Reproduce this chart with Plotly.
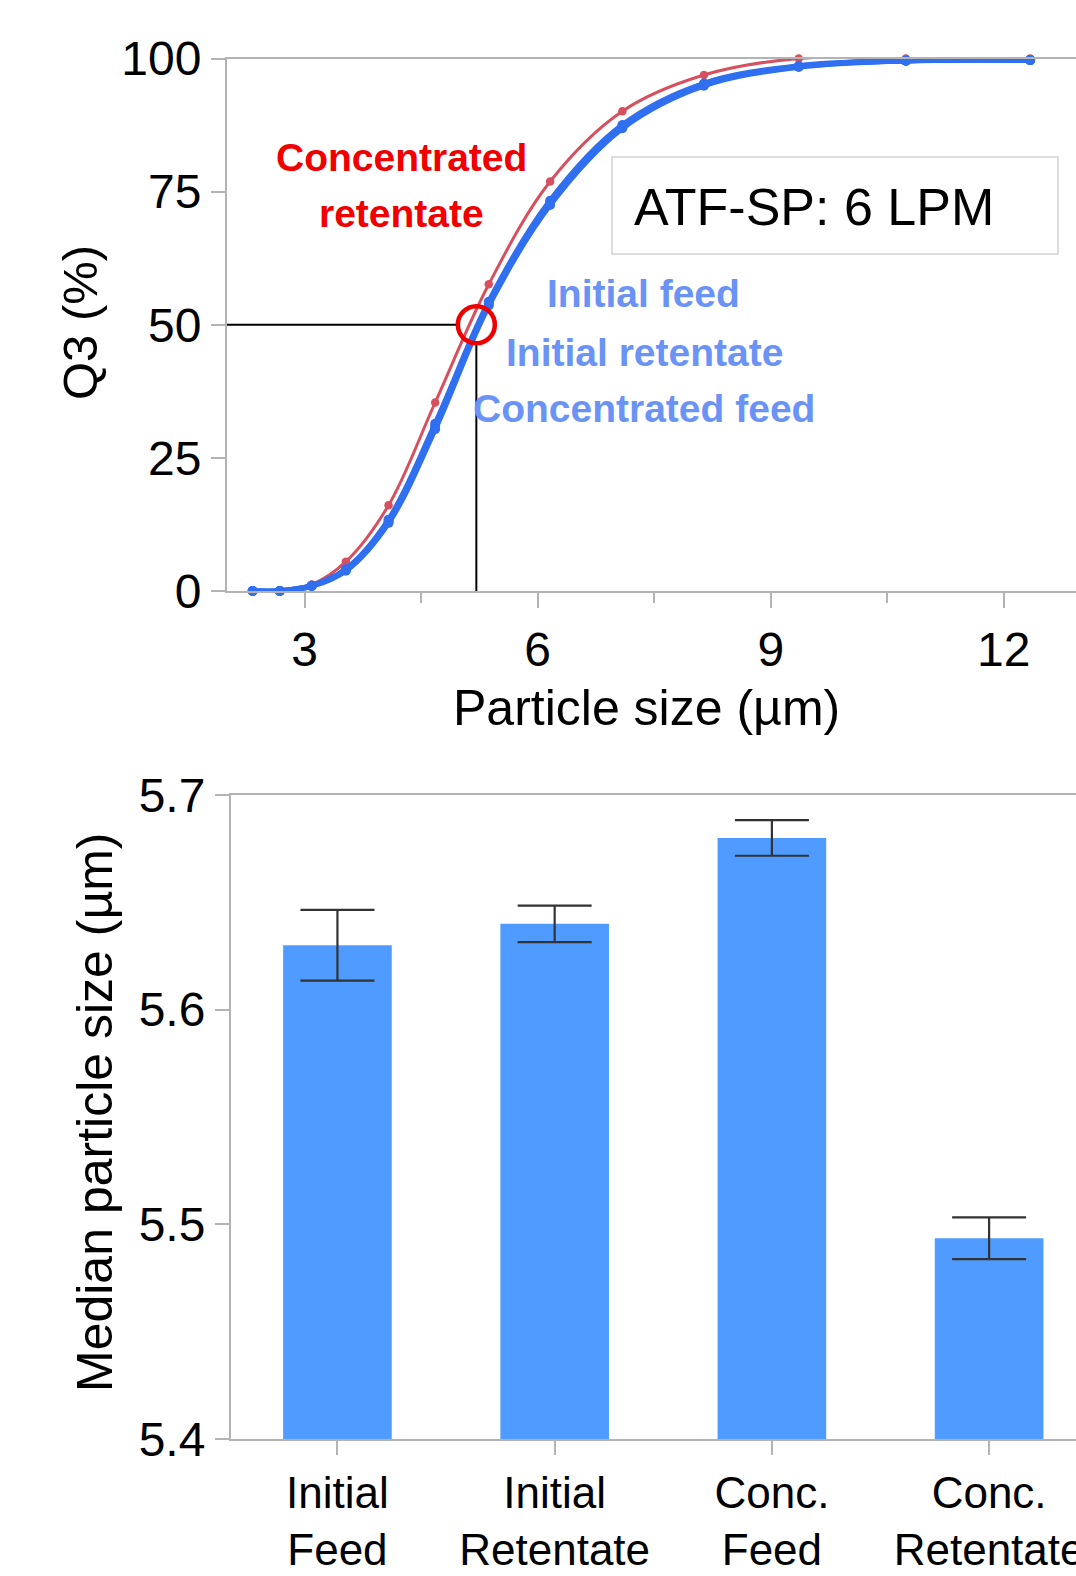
import plotly.graph_objects as go

# ---------------- data ----------------
size_um = [2.33, 2.68, 3.09, 3.53, 4.08, 4.68, 5.37, 6.16, 7.09, 8.14, 9.36, 10.74, 12.34]
q3_conc_retentate = [0, 0, 1.2, 5.5, 16.1, 35.4, 57.6, 76.9, 90.1, 96.9, 100, 100, 100]
q3_initial_feed = [0, 0, 1.0, 4.0, 13.1, 30.9, 54.0, 72.9, 87.2, 95.1, 98.5, 99.6, 99.7]
q3_initial_retentate = [0, 0, 1.0, 4.1, 13.4, 31.4, 54.3, 73.3, 87.5, 95.3, 98.6, 99.6, 99.7]
q3_conc_feed = [0, 0, 0.9, 3.8, 12.8, 30.4, 53.6, 72.5, 86.9, 94.9, 98.4, 99.6, 99.7]
d50_marker = [5.21]
q3_level = [50]

categories = ["Initial<br>Feed", "Initial<br>Retentate", "Conc.<br>Feed", "Conc.<br>Retentate"]
median_um = [5.630, 5.640, 5.680, 5.4935]
median_err = [0.0165, 0.0085, 0.0083, 0.0097]

x_ticks_top = [3, 6, 9, 12]
y_ticks_top = [0, 25, 50, 75, 100]
y_ticks_bot = [5.4, 5.5, 5.6, 5.7]

# ---------------- style ----------------
W, H = 1076, 1576
FONT = "Liberation Sans, Arial, sans-serif"
AX = "#b3b3b3"
BLUE = "#2f6ff0"
RED = "#d6505f"
LBLUE = "#6a93f5"

def px(xp):
    return xp / W

def py(yp):
    return 1 - yp / H

fig = go.Figure()

fig.add_trace(go.Scatter(x=size_um, y=q3_conc_retentate, mode="lines+markers",
                         line=dict(color=RED, width=3, shape="spline", smoothing=1),
                         marker=dict(color=RED, size=8.5), xaxis="x", yaxis="y",
                         showlegend=False, cliponaxis=False))
for ys in (q3_initial_feed, q3_initial_retentate, q3_conc_feed):
    fig.add_trace(go.Scatter(x=size_um, y=ys, mode="lines+markers",
                             line=dict(color=BLUE, width=5.5, shape="spline", smoothing=1),
                             marker=dict(color=BLUE, size=10), xaxis="x", yaxis="y",
                             showlegend=False, cliponaxis=False))

fig.add_trace(go.Scatter(x=[2.0, 4.95], y=[q3_level[0], q3_level[0]], mode="lines",
                         line=dict(color="black", width=2), xaxis="x", yaxis="y", showlegend=False))
fig.add_trace(go.Scatter(x=[d50_marker[0], d50_marker[0]], y=[0, 46.3], mode="lines",
                         line=dict(color="black", width=2), xaxis="x", yaxis="y", showlegend=False))
fig.add_trace(go.Scatter(x=d50_marker, y=q3_level, mode="markers",
                         marker=dict(symbol="circle-open", size=37, color="#ee0000",
                                     line=dict(width=4.5, color="#ee0000")),
                         xaxis="x", yaxis="y", showlegend=False))

fig.add_trace(go.Bar(x=categories, y=median_um, width=0.5,
                     marker=dict(color="#4f9bff", line=dict(width=0)),
                     error_y=dict(type="data", array=median_err, visible=True,
                                  color="#333333", thickness=2.2, width=37),
                     xaxis="x2", yaxis="y2", showlegend=False))

tickfont = dict(family=FONT, size=48, color="black")

fig.update_layout(
    width=W, height=H,
    margin=dict(l=0, r=0, t=0, b=0, autoexpand=False),
    paper_bgcolor="white", plot_bgcolor="white",
    xaxis=dict(domain=[px(227), 1], range=[2.0, 12.93], tickvals=x_ticks_top,
               showgrid=False, zeroline=False, showline=True, linecolor=AX, linewidth=2,
               mirror=True, ticks="outside", ticklen=15, tickwidth=2, tickcolor=AX,
               minor=dict(dtick=1.5, tick0=0, ticks="outside", ticklen=10, tickwidth=2, tickcolor=AX),
               tickfont=tickfont, anchor="y", automargin=False),
    yaxis=dict(domain=[py(591), py(58.5)], range=[0, 100], tickvals=y_ticks_top,
               showgrid=False, zeroline=False, showline=True, linecolor=AX, linewidth=2,
               ticks="outside", ticklen=14, tickwidth=2, tickcolor=AX,
               tickfont=tickfont, anchor="x", automargin=False),
    xaxis2=dict(domain=[px(231), 1], range=[-0.49, 3.40], type="category",
                showgrid=False, zeroline=False, showline=True, linecolor=AX, linewidth=2,
                mirror=True, ticks="outside", ticklen=14, tickwidth=2, tickcolor=AX,
                tickfont=dict(family=FONT, size=44, color="black"), anchor="y2", automargin=False),
    yaxis2=dict(domain=[py(1439), py(795)], range=[5.4, 5.7], tickvals=y_ticks_bot,
                tickformat=".1f",
                showgrid=False, zeroline=False, showline=True, linecolor=AX, linewidth=2,
                ticks="outside", ticklen=14, tickwidth=2, tickcolor=AX,
                tickfont=dict(family=FONT, size=48, color="black"), anchor="x2", automargin=False),
)

fig.add_shape(type="rect", xref="paper", yref="paper",
              x0=px(612), x1=px(1058), y0=py(254), y1=py(157),
              line=dict(color="#d2d2d2", width=1.5), fillcolor="rgba(0,0,0,0)")

ann = [
    dict(text="ATF-SP: 6 LPM", x=px(814), y=py(207), size=52, color="black", bold=False),
    dict(text="Concentrated", x=px(401), y=py(157), size=39, color="#f00000", bold=True),
    dict(text="retentate", x=px(401), y=py(213), size=39, color="#f00000", bold=True),
    dict(text="Initial feed", x=px(643), y=py(294), size=39, color=LBLUE, bold=True),
    dict(text="Initial retentate", x=px(644), y=py(352), size=39, color=LBLUE, bold=True),
    dict(text="Concentrated feed", x=px(644), y=py(408), size=39, color=LBLUE, bold=True),
    dict(text="Particle size (µm)", x=px(646), y=py(708), size=50, color="black", bold=False),
]
for a in ann:
    t = "<b>%s</b>" % a["text"] if a["bold"] else a["text"]
    fig.add_annotation(text=t, x=a["x"], y=a["y"], xref="paper", yref="paper",
                       xanchor="center", yanchor="middle", showarrow=False,
                       font=dict(family=FONT, size=a["size"], color=a["color"]))

fig.add_annotation(text="Q3 (%)", x=px(80), y=py(323), xref="paper", yref="paper",
                   textangle=-90, showarrow=False, xanchor="center", yanchor="middle",
                   font=dict(family=FONT, size=49, color="black"))
fig.add_annotation(text="Median particle size (µm)", x=px(95), y=py(1112), xref="paper", yref="paper",
                   textangle=-90, showarrow=False, xanchor="center", yanchor="middle",
                   font=dict(family=FONT, size=50, color="black"))

fig.write_html("out.html")
